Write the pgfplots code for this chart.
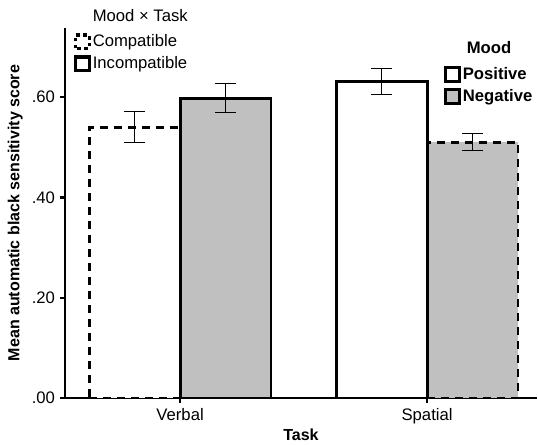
\documentclass[border=0pt]{standalone}
\usepackage{pgfplots}
\pgfplotsset{compat=1.18}
\usepackage{fontspec}
\setmainfont{Liberation Sans}
\definecolor{barg}{HTML}{C0C0C0}
\begin{document}
\begin{tikzpicture}[font=\fontsize{12.5}{14}\selectfont]
\pgfplotsset{
  errs/.style={error bars/.cd, y dir=both, y explicit,
    error bar style={line width=0.7pt, black, solid},
    error mark options={rotate=90, mark size=8pt, line width=0.7pt, black, solid}},
  boxleg/.style={legend image code/.code={\draw[##1, line width=2.4pt] (0pt,-5pt) rectangle (10pt,5pt);}},
}
\begin{axis}[name=main, scale only axis, width=354pt, height=277.5pt,
  xmin=-0.466, xmax=1.445, ymin=0, ymax=0.738,
  axis lines*=left, axis line style={line width=2.2pt, -},
  xtick={0,1}, xticklabels={Verbal,Spatial},
  ytick={0,0.2,0.4,0.6}, yticklabels={.00,.20,.40,.60},
  /pgf/number format/assume math mode=true,
  tick style={line width=1.6pt, black}, tick align=outside, major tick length=4pt,
  xlabel={\textbf{Task}}, ylabel={\textbf{Mean automatic black sensitivity score}},
  label style={font=\fontsize{12}{14}\selectfont},
  xlabel style={yshift=3pt},
  boxleg,
  legend cell align=left,
  legend style={draw=none, fill=none, at={(0.803,0.97)}, anchor=north west,
    font=\fontsize{12.5}{14}\selectfont\bfseries, row sep=3pt, inner sep=0pt,
    nodes={inner sep=1.5pt}},
]
% Verbal positive (compatible, dashed)
\addplot[ybar, bar width=0.368, bar shift=0, fill=white, draw=black, line width=2.2pt,
  dash pattern=on 6pt off 4.5pt, forget plot, errs]
  coordinates {(-0.184,0.540) +- (0,0.031)};
% Verbal negative (incompatible, solid)
\addplot[ybar, bar width=0.368, bar shift=0, fill=barg, draw=black, line width=2.2pt,
  forget plot, errs]
  coordinates {(0.184,0.598) +- (0,0.029)};
% Spatial negative (compatible, dashed)
\addplot[ybar, bar width=0.368, bar shift=0, fill=barg, draw=black, line width=2.2pt,
  dash pattern=on 6pt off 4.5pt, forget plot, errs]
  coordinates {(1.184,0.510) +- (0,0.017)};
% Spatial positive (incompatible, solid)
\addplot[ybar, bar width=0.368, bar shift=0, fill=white, draw=black, line width=2.2pt,
  forget plot, errs]
  coordinates {(0.816,0.632) +- (0,0.026)};
\addlegendimage{empty legend}
\addlegendentry{\raisebox{3pt}{\hspace{3pt}Mood}}
\addlegendimage{fill=white, draw=black}
\addlegendentry{Positive}
\addlegendimage{fill=barg, draw=black}
\addlegendentry{Negative}
\end{axis}
\begin{axis}[at={(main.south west)}, anchor=south west, scale only axis,
  width=354pt, height=277.5pt, hide axis, xmin=0, xmax=1, ymin=0, ymax=1,
  boxleg, legend cell align=left,
  legend style={draw=none, fill=none, at={(0.019,1.055)}, anchor=north west,
    font=\fontsize{12.5}{14}\selectfont, row sep=3pt, inner sep=0pt,
    nodes={inner sep=1.5pt}},
]
\addlegendimage{empty legend}
\addlegendentry{\raisebox{2pt}{Mood × Task}}
\addlegendimage{fill=white, draw=black, dash pattern=on 2.6pt off 2.6pt}
\addlegendentry{Compatible}
\addlegendimage{fill=white, draw=black}
\addlegendentry{Incompatible}
\end{axis}
\pgfresetboundingbox
\path[use as bounding box] ([xshift=-48.75pt,yshift=-35.25pt]main.south west) rectangle ([xshift=0.75pt,yshift=21pt]main.north east);
\end{tikzpicture}
\end{document}
